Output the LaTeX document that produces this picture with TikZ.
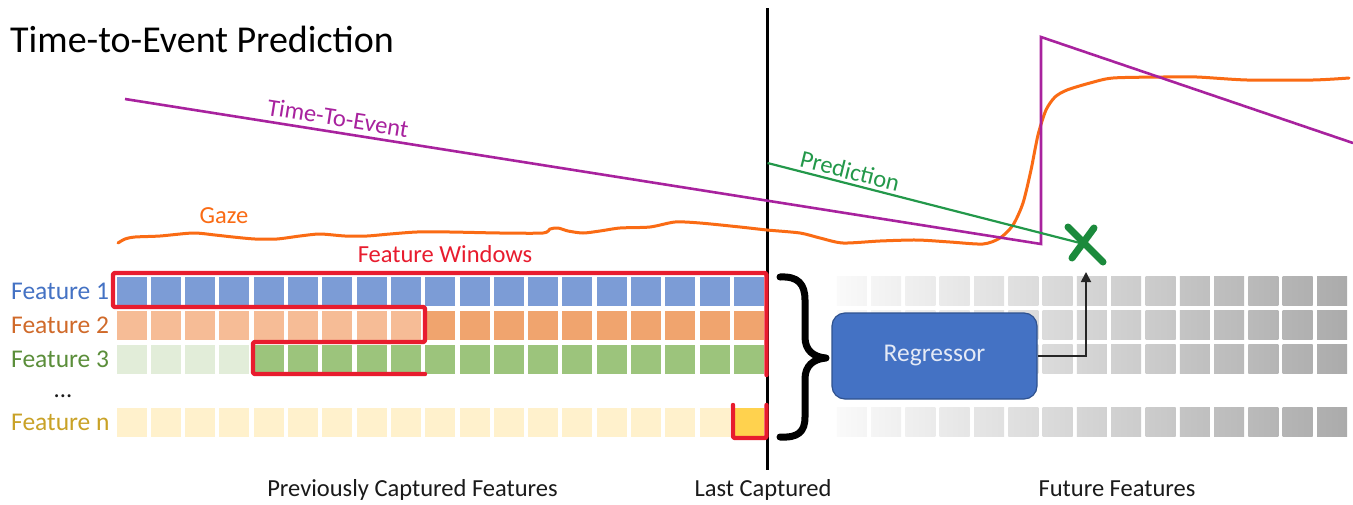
\documentclass[tikz,border=0pt]{standalone}
\usepackage{fontspec}
\setmainfont{Carlito}
\usetikzlibrary{arrows.meta}
\definecolor{fblue}{HTML}{7C9CD6}
\definecolor{forl}{HTML}{F6BC96}
\definecolor{ford}{HTML}{F0A46E}
\definecolor{fgrl}{HTML}{E2EDD9}
\definecolor{fgrd}{HTML}{9CC47C}
\definecolor{fyel}{HTML}{FFF1CC}
\definecolor{fgold}{HTML}{FFD24E}
\definecolor{tblue}{HTML}{4472C4}
\definecolor{torange}{HTML}{D06A2A}
\definecolor{tgreen}{HTML}{5B8E3A}
\definecolor{tgold}{HTML}{C9A227}
\definecolor{winred}{HTML}{E81C2E}
\definecolor{gazeor}{HTML}{FA6B14}
\definecolor{ttepur}{HTML}{A8229E}
\definecolor{predgr}{HTML}{23984A}
\definecolor{xgreen}{HTML}{1B8A3C}
\definecolor{regfill}{HTML}{4472C4}
\definecolor{regedge}{HTML}{2F528F}
\definecolor{regtext}{HTML}{E4EAF6}
\definecolor{darktext}{HTML}{1A1A1A}
\begin{document}
\begin{tikzpicture}[x=1pt,y=-1pt,
  lbl/.style={font=\fontsize{24.5}{28}\selectfont, inner sep=0pt},
  flabel/.style={font=\fontsize{25.5}{29}\selectfont, inner sep=0pt, anchor=base west},
  bottomlbl/.style={lbl, anchor=base, text=darktext},
  redwin/.style={draw=winred, line width=4.4pt, line join=round, line cap=round, rounded corners=2pt},
  regbox/.style={draw=regedge, line width=1.2pt, fill=regfill, rounded corners=13pt,
    minimum width=205pt, minimum height=86pt, text=regtext, font=\fontsize{25.5}{30}\selectfont},
  outarrow/.style={draw=black!85, line width=1.8pt, -{Triangle[length=10pt,width=10pt]}},
  bracestyle/.style={draw=black, line width=7pt, line cap=round, line join=round},
]
\useasboundingbox (0,0) rectangle (1353,504);
\fill[white] (0,0) rectangle (1353,504);

% title
\node[font=\fontsize{38}{44}\selectfont, anchor=base west, inner sep=0pt] (title) at (10,52) {Time-to-Event Prediction};

% left feature cells
\foreach \k in {0,...,18}{
  \pgfmathsetmacro{\xa}{116.5+34.3*\k}
  \fill[fblue] (\xa,276.5) rectangle ++(30,29);
  \ifnum\k<9 \def\ctwo{forl}\else\def\ctwo{ford}\fi
  \fill[\ctwo] (\xa,310.5) rectangle ++(30,29);
  \ifnum\k<4 \def\cthree{fgrl}\else\def\cthree{fgrd}\fi
  \fill[\cthree] (\xa,344.5) rectangle ++(30,29);
  \ifnum\k<18 \def\cn{fyel}\else\def\cn{fgold}\fi
  \fill[\cn] (\xa,407.5) rectangle ++(30,29);
}

% future (grey) cells
\foreach \k in {0,...,14}{
  \pgfmathsetmacro{\xa}{116.5+34.3*(\k+21)}
  \pgfmathtruncatemacro{\pa}{2+2.1*\k}
  \pgfmathtruncatemacro{\pb}{4+2.1*\k}
  \foreach \yt in {276.5,310.5,344.5,407.5}{
    \shade[left color=black!\pa, right color=black!\pb] (\xa,\yt) rectangle ++(30,29);
  }
}

% feature labels
\node[flabel, text=tblue] (f1) at (11,299) {Feature 1};
\node[flabel, text=torange] (f2) at (11,333) {Feature 2};
\node[flabel, text=tgreen] (f3) at (11,367) {Feature 3};
\node[lbl, anchor=base, text=darktext] (dots) at (63,397) {...};
\node[flabel, text=tgold] (fn) at (11,430) {Feature n};

% last captured vertical line
\coordinate (vtop) at (767.5,8);
\coordinate (vbot) at (767.5,470);
\draw[black, line width=2.5pt] (vtop) -- (vbot);

% feature windows (red)
\draw[redwin] (425,374) -- (253,374) -- (253,342) -- (425,342) -- (425,307) -- (113,307) -- (113,273) -- (766.5,273) -- (766.5,375);
\draw[redwin] (733,405) -- (733,438) -- (766.5,438) -- (766.5,405);
\node[lbl, anchor=base, text=winred] (fwlabel) at (445,262) {Feature Windows};

% gaze curve
\draw[gazeor, line width=3pt, line cap=round, line join=round] plot[smooth, tension=0.45] coordinates {
 (118,243) (125,239) (135,237) (160,236) (193,233) (215,235) (233,237) (255,239) (277,239)
 (300,236) (320,234) (345,236) (367,236) (390,234) (417,232) (450,232) (500,233) (543,233)
 (550,229) (558,228) (568,231) (583,233) (600,231) (620,228) (650,227) (675,222) (700,223)
 (740,227) (767,230) (800,233) (820,238) (843,243) (880,241) (917,240) (950,242) (983,244)
 (1000,238) (1013,225) (1023,203) (1031,170) (1038,135) (1046,110) (1055,97) (1067,90)
 (1090,83) (1113,78) (1163,77) (1197,77) (1247,80) (1313,80) (1349,78)};
\node[lbl, anchor=base, text=gazeor] (gazelabel) at (224,223) {Gaze};

% time-to-event
\coordinate (tteA) at (125,99);
\coordinate (tteB) at (1041,244);
\coordinate (tteC) at (1041,37);
\coordinate (tteD) at (1353,143);
\draw[ttepur, line width=2.6pt, line join=miter] (tteA) -- (tteB) -- (tteC) -- (tteD);
\node[lbl, text=ttepur, rotate=-9] (ttelabel) at (338,118) {Time-To-Event};

% prediction
\coordinate (predstart) at (767.5,163);
\coordinate (xmark) at (1084,244);
\draw[predgr, line width=2.2pt] (predstart) -- (xmark);
\node[lbl, text=predgr, rotate=-14] (predlabel) at (850,171) {Prediction};
\draw[xgreen, line width=7pt, line cap=round] (1068,227) -- (1103,262);
\draw[xgreen, line width=7pt, line cap=round] (1094,228) -- (1072,258);

% brace
\draw[bracestyle] (780,277) .. controls (798,276) and (805,284) .. (805,300)
  -- (805,337) .. controls (805,350) and (813,357) .. (826,358)
  .. controls (813,359) and (805,366) .. (805,379)
  -- (805,417) .. controls (805,432) and (798,438) .. (780,437);

% regressor
\node[regbox] (reg) at (934.5,356) {Regressor};
\coordinate (arrowend) at (1086,272);
\draw[outarrow] (reg.east) -| (arrowend);

% bottom labels
\node[bottomlbl] (prev) at (412.5,496) {Previously Captured Features};
\node[bottomlbl] (last) at (763,496) {Last Captured};
\node[bottomlbl] (future) at (1117,496) {Future Features};
\end{tikzpicture}
\end{document}
